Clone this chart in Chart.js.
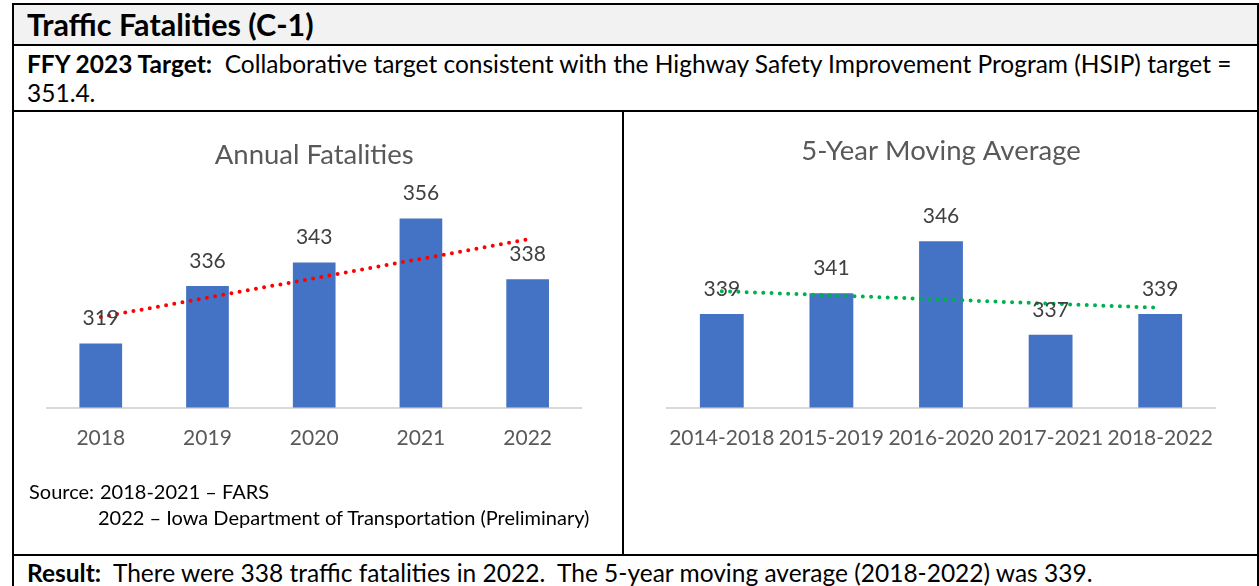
<!DOCTYPE html>
<html>
<head>
<meta charset="utf-8">
<script src="https://cdn.jsdelivr.net/npm/chart.js@4"></script>
<style>
  body { margin: 0; background: #fff; font-family: Lato, sans-serif; color: #000; }
  #page { position: relative; width: 1259px; height: 586px; overflow: hidden; }
  .rule { position: absolute; background: #000; }
  .txt { position: absolute; white-space: nowrap; }
  canvas { position: absolute; }
</style>
</head>
<body>
<div id="page">
  <!-- table frame -->
  <div style="position:absolute;left:14px;top:5px;width:1242.5px;height:38.5px;background:#f2f2f2"></div>
  <div class="rule" style="left:12px;top:3px;width:1246.5px;height:2px"></div>
  <div class="rule" style="left:12px;top:3px;width:2px;height:583px"></div>
  <div class="rule" style="left:1256.5px;top:3px;width:2px;height:583px"></div>
  <div class="rule" style="left:12px;top:43.5px;width:1246.5px;height:2px"></div>
  <div class="rule" style="left:12px;top:109.5px;width:1246.5px;height:2px"></div>
  <div class="rule" style="left:12px;top:553.5px;width:1246.5px;height:2px"></div>
  <div class="rule" style="left:621.5px;top:110px;width:2px;height:444px"></div>

  <div class="txt" style="left:27px;top:5.5px;font-size:30.5px;line-height:36px;font-weight:bold">Traffic Fatalities (C-1)</div>
  <div class="txt" style="left:27px;top:48.5px;font-size:24.5px;line-height:29px"><b>FFY 2023 Target:</b>&nbsp; Collaborative target consistent with the Highway Safety Improvement Program (HSIP) target =<br>351.4.</div>

  <canvas id="annualChart" width="606" height="441" style="left:14px;top:112px"></canvas>
  <canvas id="avgChart" width="631" height="441" style="left:624px;top:112px"></canvas>

  <div class="txt" style="left:29px;top:477.5px;font-size:20px;line-height:26px">Source:<span style="position:absolute;left:71px">2018-2021 – FARS</span><br><span style="padding-left:69px">2022 – Iowa Department of Transportation (Preliminary)</span></div>

  <div class="txt" style="left:27px;top:557.5px;font-size:24.5px;line-height:29px"><b>Result:</b>&nbsp; There were 338 traffic fatalities in 2022.&nbsp; The 5-year moving average (2018-2022) was 339.</div>
</div>

<script>
// annual fatalities
const years = ['2018', '2019', '2020', '2021', '2022'];
const annualFatalities = [319, 336, 343, 356, 338];
const annualTrend = [326.8, null, null, null, 349.8]; // dotted trendline ends

// 5-year moving average
const avgPeriods = ['2014-2018', '2015-2019', '2016-2020', '2017-2021', '2018-2022'];
const movingAverage = [339, 341, 346, 337, 339];
const avgTrend = [341.2, null, null, null, 339.6];

const barBlue = '#4472C4';

// number above each bar
const valueLabels = {
  id: 'valueLabels',
  afterDatasetsDraw(chart) {
    const ctx = chart.ctx;
    const meta = chart.getDatasetMeta(0);
    ctx.save();
    ctx.font = '21px Lato';
    ctx.fillStyle = '#404040';
    ctx.textAlign = 'center';
    ctx.textBaseline = 'middle';
    meta.data.forEach(function (bar, i) {
      ctx.fillText(chart.data.datasets[0].data[i], bar.x, bar.y - 25);
    });
    ctx.restore();
  },
};

function makeChart(id, labels, values, trend, trendColor, yMin, yMax, title, titlePad, padding) {
  return new Chart(document.getElementById(id), {
    type: 'bar',
    data: {
      labels: labels,
      datasets: [
        {
          data: values,
          backgroundColor: barBlue,
          barPercentage: 0.4,
          categoryPercentage: 1,
          order: 1,
        },
        {
          type: 'line',
          data: trend,
          spanGaps: true,
          borderColor: trendColor,
          borderWidth: 4,
          borderDash: [0, 8.3],
          borderCapStyle: 'round',
          pointRadius: 0,
          fill: false,
          order: 0,
        },
      ],
    },
    options: {
      responsive: false,
      animation: false,
      devicePixelRatio: 1,
      layout: { padding: padding },
      plugins: {
        legend: { display: false },
        tooltip: { enabled: false },
        title: {
          display: true,
          text: title,
          color: '#595959',
          font: { family: 'Lato', size: 27.5, weight: 'normal' },
          padding: titlePad,
        },
      },
      scales: {
        x: {
          grid: { display: false, drawTicks: false },
          border: { display: true, color: '#D9D9D9', width: 2 },
          ticks: {
            color: '#595959',
            font: { family: 'Lato', size: 21 },
            padding: 18,
            autoSkip: false,
            maxRotation: 0,
            minRotation: 0,
          },
          afterFit: function (scale) { scale.height = 40; },
        },
        y: { display: false, min: yMin, max: yMax },
      },
    },
    plugins: [valueLabels],
  });
}

makeChart('annualChart', years, annualFatalities, annualTrend, '#FF0000',
  300, 360, 'Annual Fatalities', { top: 26.5, bottom: 33.5 },
  { left: 33.4, right: 39, top: 0, bottom: 105.5 });

makeChart('avgChart', avgPeriods, movingAverage, avgTrend, '#00B050',
  330, 349.5, '5-Year Moving Average', { top: 22.5, bottom: 37.5 },
  { left: 43, right: 40, top: 0, bottom: 105.5 });
</script>
</body>
</html>
